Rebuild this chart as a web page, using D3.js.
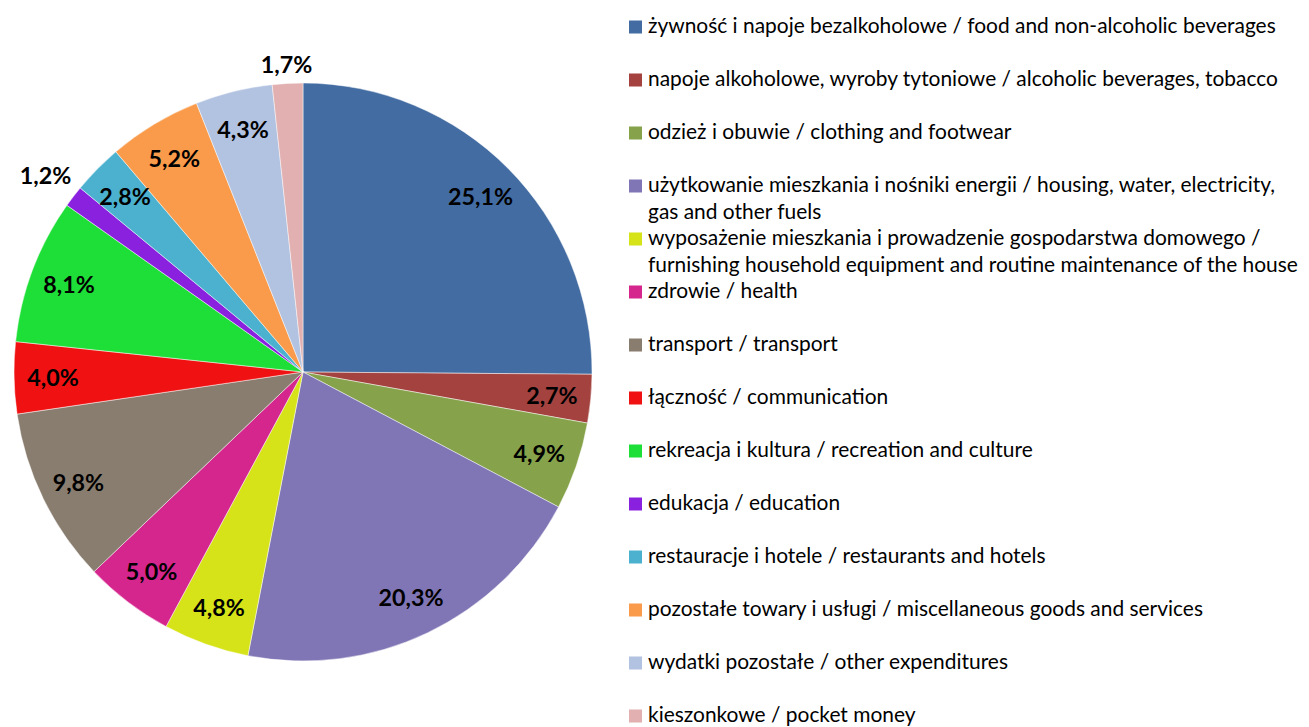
<!DOCTYPE html>
<html>
<head>
<meta charset="utf-8">
<script src="https://cdn.jsdelivr.net/npm/d3@7"></script>
<style>
  body { margin: 0; background: #fff; }
  svg { display: block; }
  text { font-family: Lato, "Open Sans", sans-serif; }
</style>
</head>
<body>
<svg id="chart" width="1309" height="727"></svg>
<script>
// categories (legend lines, wrapped as in the original)
var categories = [
  ['żywność i napoje bezalkoholowe / food and non-alcoholic beverages'],
  ['napoje alkoholowe, wyroby tytoniowe / alcoholic beverages, tobacco'],
  ['odzież i obuwie / clothing and footwear'],
  ['użytkowanie mieszkania i nośniki energii / housing, water, electricity,', 'gas and other fuels'],
  ['wyposażenie mieszkania i prowadzenie gospodarstwa domowego /', 'furnishing household equipment and routine maintenance of the house'],
  ['zdrowie / health'],
  ['transport / transport'],
  ['łączność / communication'],
  ['rekreacja i kultura / recreation and culture'],
  ['edukacja / education'],
  ['restauracje i hotele / restaurants and hotels'],
  ['pozostałe towary i usługi / miscellaneous goods and services'],
  ['wydatki pozostałe / other expenditures'],
  ['kieszonkowe / pocket money']
];
var values = [25.1, 2.7, 4.9, 20.3, 4.8, 5.0, 9.8, 4.0, 8.1, 1.2, 2.8, 5.2, 4.3, 1.7];
var colors = ['#436ca2', '#a4423f', '#86a34b', '#8176b5', '#d6e319', '#d5268e', '#897d6f',
              '#f01212', '#1edf37', '#8a21df', '#4bb1cf', '#f99b4a', '#b2c2e1', '#e2b0b0'];
// labels drawn outside the pie
var outsideLabels = [1.2, 1.7];

var svg = d3.select('#chart');
var cx = 303, cy = 372, r = 289;

var pie = d3.pie().sort(null).value(function(d) { return d; });
var arcs = pie(values);
var arc = d3.arc().innerRadius(0).outerRadius(r);

var g = svg.append('g').attr('transform', 'translate(' + cx + ',' + cy + ')');

g.selectAll('path.slice')
  .data(arcs)
  .enter()
  .append('path')
  .attr('class', 'slice')
  .attr('d', arc)
  .attr('fill', function(d, i) { return colors[i]; })
  .attr('stroke', '#ffffff')
  .attr('stroke-opacity', 0.6)
  .attr('stroke-width', 0.8);

function fmt(v) { return v.toFixed(1).replace('.', ',') + '%'; }

// label font sized so "25,1%" is about 65px wide
var probe = svg.append('text').attr('font-weight', 'bold').attr('font-size', 20).text('25,1%');
var labelSize = 20 * 65 / probe.node().getComputedTextLength();
probe.remove();

var labels = g.selectAll('text.lbl')
  .data(arcs)
  .enter()
  .append('text')
  .attr('class', 'lbl')
  .attr('font-weight', 'bold')
  .attr('font-size', labelSize)
  .attr('fill', '#000')
  .attr('text-anchor', 'middle')
  .attr('dominant-baseline', 'central')
  .text(function(d) { return fmt(d.data); });

labels.attr('transform', function(d) {
  var a = (d.startAngle + d.endAngle) / 2;
  var s = Math.sin(a), c = -Math.cos(a);
  var dist;
  if (outsideLabels.indexOf(d.data) >= 0) {
    var w = this.getComputedTextLength();
    dist = r + 9 + Math.abs(s) * w / 2 + Math.abs(c) * labelSize * 0.4;
  } else {
    dist = r * 0.865;
  }
  return 'translate(' + (s * dist) + ',' + (c * dist) + ')';
});

// legend
var legendX = 629, legendY0 = 27, legendStep = 53, lineStep = 26.5;
var probe2 = svg.append('text').attr('font-size', 20).text(categories[0][0]);
var legendSize = 20 * 628 / probe2.node().getComputedTextLength();
probe2.remove();

var legend = svg.append('g');
var items = legend.selectAll('g.item')
  .data(categories)
  .enter()
  .append('g')
  .attr('class', 'item')
  .attr('transform', function(d, i) { return 'translate(' + legendX + ',' + (legendY0 + i * legendStep) + ')'; });

items.append('rect')
  .attr('x', 0)
  .attr('y', -6.5)
  .attr('width', 13)
  .attr('height', 13)
  .attr('fill', function(d, i) { return colors[i]; });

items.each(function(lines) {
  var t = d3.select(this).append('text')
    .attr('x', 19)
    .attr('y', 0)
    .attr('font-size', legendSize)
    .attr('fill', '#000');
  lines.forEach(function(line, k) {
    t.append('tspan')
      .attr('x', 19)
      .attr('y', 6 + k * lineStep)
      .text(line);
  });
});
</script>
</body>
</html>
